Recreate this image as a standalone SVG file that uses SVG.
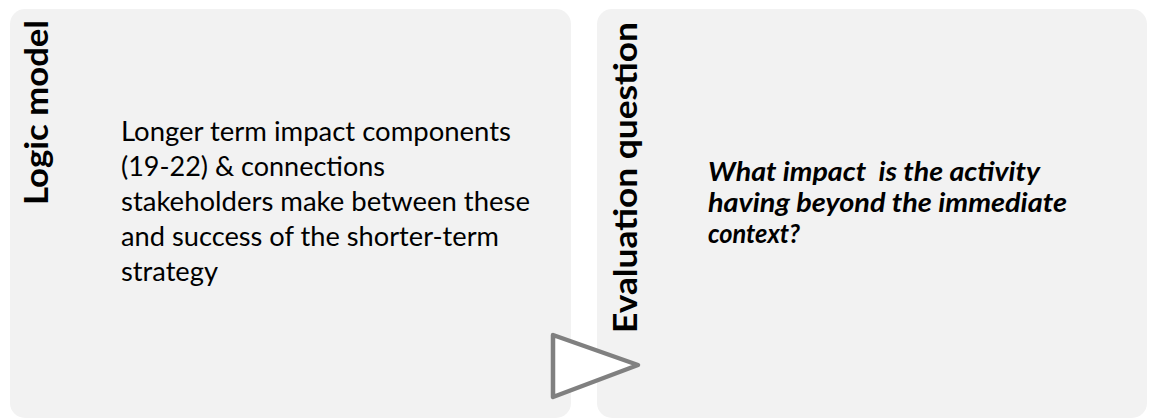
<svg xmlns="http://www.w3.org/2000/svg" width="1154" height="418" viewBox="0 0 1154 418">
<style>
.box{fill:#f2f2f2;stroke:none}
.head{font-family:Lato,"Liberation Sans",sans-serif;font-weight:bold;font-size:33px;fill:#000}
.body{font-family:Lato,"Liberation Sans",sans-serif;font-size:27px;fill:#000}
.q{font-family:Lato,"Liberation Sans",sans-serif;font-size:27px;font-weight:bold;font-style:italic;fill:#000;white-space:pre}
.arrow{fill:#ffffff;stroke:#808080;stroke-width:4.5;stroke-linejoin:round}
</style>
<rect width="1154" height="418" fill="#ffffff"/>
<g id="logic-model">
<rect class="box" x="10" y="9" width="561" height="409" rx="15"/>
<text class="head" transform="translate(48,205) rotate(-90)" textLength="185" lengthAdjust="spacingAndGlyphs">Logic model</text>
<text class="body" x="121" y="141" textLength="390" lengthAdjust="spacingAndGlyphs">Longer term impact components</text>
<text class="body" x="121" y="176" textLength="264" lengthAdjust="spacingAndGlyphs">(19-22) &amp; connections</text>
<text class="body" x="121" y="211" textLength="409" lengthAdjust="spacingAndGlyphs">stakeholders make between these</text>
<text class="body" x="121" y="246" textLength="378" lengthAdjust="spacingAndGlyphs">and success of the shorter-term</text>
<text class="body" x="121" y="281" textLength="97" lengthAdjust="spacingAndGlyphs">strategy</text>
</g>
<g id="evaluation-question">
<rect class="box" x="597" y="9" width="550" height="409" rx="15"/>
<text class="head" transform="translate(637,333) rotate(-90)" textLength="311" lengthAdjust="spacingAndGlyphs">Evaluation question</text>
<text class="q" x="708" y="181" textLength="332" lengthAdjust="spacingAndGlyphs">What impact  is the activity</text>
<text class="q" x="708" y="212" textLength="359" lengthAdjust="spacingAndGlyphs">having beyond the immediate</text>
<text class="q" x="708" y="243" textLength="92" lengthAdjust="spacingAndGlyphs">context?</text>
</g>
<g id="connectors">
<polygon class="arrow" points="553,335 638,365 553,397"/>
</g>
</svg>
